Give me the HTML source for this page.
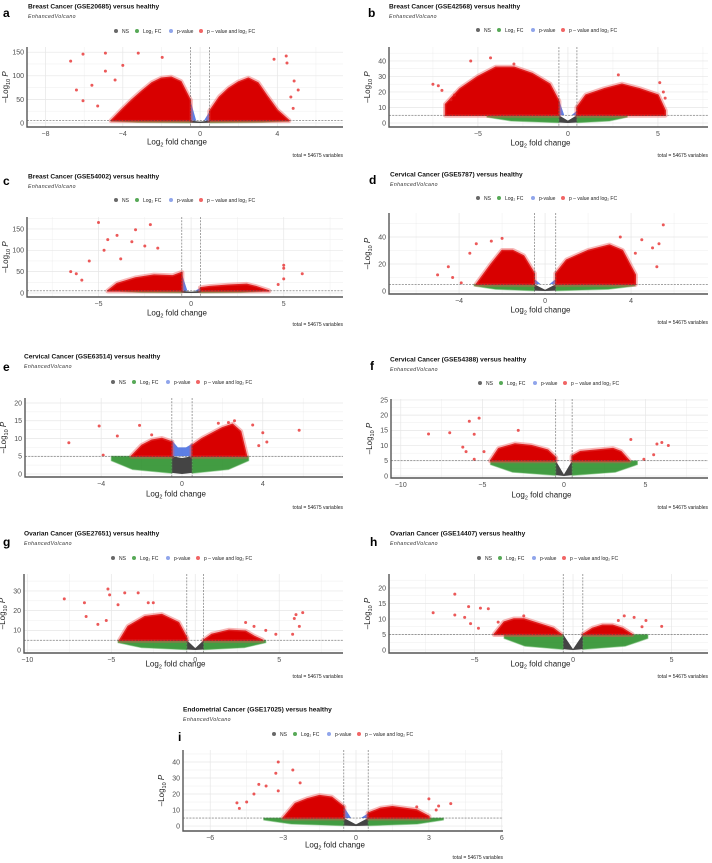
<!DOCTYPE html>
<html><head><meta charset="utf-8"><style>
body{margin:0;background:#fff}
svg{display:block;font-family:"Liberation Sans",sans-serif}
</style></head><body>
<svg id="fig" width="712" height="863" viewBox="0 0 712 863" xmlns="http://www.w3.org/2000/svg"></svg>
<script>
// ===== data arrays =====
const titles = ["Breast Cancer (GSE20685) versus healthy","Breast Cancer (GSE42568) versus healthy","Breast Cancer (GSE54002) versus healthy","Cervical Cancer (GSE5787) versus healthy","Cervical Cancer (GSE63514) versus healthy","Cervical Cancer (GSE54388) versus healthy","Ovarian Cancer (GSE27651) versus healthy","Ovarian Cancer (GSE14407) versus healthy","Endometrial Cancer (GSE17025) versus healthy"];
const letters = ["a","b","c","d","e","f","g","h","i"];
const xTicks = [[-8,-4,0,4],[-5,0,5],[-5,0,5],[-4,0,4],[-4,0,4],[-10,-5,0,5],[-10,-5,0,5],[-5,0,5],[-6,-3,0,3,6]];
const yTicks = [[0,50,100,150],[0,10,20,30,40],[0,50,100,150],[0,20,40],[0,5,10,15,20],[0,5,10,15,20,25],[0,10,20,30],[0,5,10,15,20],[0,10,20,30,40]];
const xDomains = [[-8.96,7.4],[-9.94,7.78],[-8.86,8.2],[-7.26,7.58],[-7.77,7.97],[-10.6,8.83],[-10.2,8.8],[-9.34,6.85],[-7.12,6.05]];
const yDomains = [[-8.5,161],[-2.6,49],[-9.4,178],[-2.2,57.8],[-0.85,21.4],[-0.66,25.3],[-1.5,38.6],[-0.97,24.5],[-3.1,47.5]];
// dense red region envelopes
const redLeftX = [[-4.6,-4,-3.5,-3,-2.5,-2,-1.5,-1,-0.5],[-6.8,-6,-5,-4,-3,-2,-1,-0.5],[-4.5,-4,-3,-2,-1,-0.5],[-3.2,-2.5,-2,-1.5,-1,-0.5],[-2.5,-2,-1.5,-1,-0.5],[-4.5,-4,-3,-2,-1,-0.5],[-4.5,-4,-3,-2,-1,-0.5],[-4,-3.5,-3,-2.5,-2,-1.5,-1,-0.6],[-3,-2.5,-2,-1.5,-1,-0.5]];
const redLeftY = [[5,30,50,68,85,95,97,88,48],[12,22,30,36,36,32,25,14],[5,22,35,42,40,48],[5,20,30,30,26,13],[5,8,9.5,10,9],[5,9,10.5,10,8.5,6],[5,12,17,18,14,6],[5,9,10,10,9,8,7,5],[5,14,17,19,18,12]];
const redRightX = [[0.5,1,1.5,2,2.5,3,3.5,4,4.6],[0.5,1,2,3,4,5,5.4],[0.5,1,2,3,3.5,4.2],[0.5,1,2,3,3.6,4.2],[0.5,1,1.5,2,2.5,2.9,3.2],[0.5,1,2,3,3.5,4],[0.5,1,2,3,3.5,4],[0.5,1,1.5,2,2.5,3],[0.5,1,1.5,2,2.5,3]];
const redRightY = [[25,55,74,87,95,85,55,27,5],[10,18,22,25,22,18,8],[12,15,18,20,15,5],[13,23,30,34,30,12],[8,10,11.5,13,14,12,5],[6.5,8,8.5,9,8,5],[5,8,10,9.5,7,5],[5,7,8,8,7,5],[8,11,12,11,10,6]];
// outlying significant genes
const outX = [[-6.7,-6.06,-4.9,-6.4,-6.06,-5.6,-4.9,-4,-3.2,-1.96,-5.3,-4.4,4.46,4.5,3.83,4.87,5.08,4.82,4.7],[-7.5,-7,-6.5,-5.4,-4.3,-3,2.8,5.1,5.4,5.3,-6.3,-7.2],[-5,-2.2,-3,-4,-4.5,-3.2,-2.5,-1.8,-4.7,-5.5,-6.5,-3.8,5,5,6,5,4.7,-6.2,-5.9],[5.5,4.5,5.3,5,5.2,-5,-4.3,-3.9,-3.5,-3.2,-2,-2.5,3.5,4.2,-4.5],[-5.6,-4.1,-3.9,-3.2,-2.1,5.8,4,4.2,3.5,2.6,2.3,1.8,3.8,-1.5],[-8.3,-7,-5.8,-5.2,-5.5,-6,-5.5,-2.8,4.1,5.7,6,6.4,5.5,4.9,-4.9,-6.2],[-7.8,-6.6,-6.5,-5.2,-5.1,-4.2,-3.4,-5.3,-5.8,-4.6,6.4,6,5.9,6.2,5.8,4.8,4.2,3,3.5,-2.5,-2.8],[-7.1,-6,-6,-5.3,-4.7,-4.3,-5.5,-5.2,-4.8,-3.8,-2.5,2.6,3.1,3.7,4.5,3.5,2.3],[-3.2,-2.6,-3.3,-4,-3.7,-4.2,-4.5,-4.8,-4.9,-3.2,-2.3,3,3.4,3.9,3.3,2.5]];
const outY = [[131,146,148,70,47,80,110,122,148,139,36,91,142,127,135,89,70,31,55],[25,21,15,40,42,38,31,26,16,20,18,24],[165,160,148,135,125,120,110,105,100,75,50,80,65,58,45,33,20,45,30],[49,38,35,32,18,12,10,6,28,35,39,37,40,28,18],[8.8,13.5,5.3,10.7,13.7,12.3,11.6,9,13.8,15,14.5,14.3,8,11],[13.8,14.2,18,19,13.7,8,5.5,15,12,10.5,11,10,7,5.5,8,9.5],[26,24,17,31,28,29,29,15,13,23,19,18,16,12,8,8,10,14,12,24,24],[12,18,11.3,14,13.5,13.3,10.5,8.5,7,9,11,11,10.5,9.5,7.6,7.5,9.5],[40,35,33,26,25,20,15,11,14.5,22,27,17,12.5,14,10,12]];
// green (log2FC only) extent, grey / blue shapes
const greenExtL = [-4.6,-4.5,-3.8,-3.3,-3.5,-4.5,-4.6,-3.5,-3.8];
const greenExtR = [4.6,3.3,3.8,4.2,3.3,4.5,4.2,3.8,3.6];
const blueLeft = [48,15,45,9,9.5,5.3,5,5,12];
const blueMid = [5,5,5,5,7.5,5,5,5,5];
const blueRight = [25,8,12,9,8.5,5,5,5,8];
const greyMid = [3,1.5,3,1,4.5,0.5,1,0.3,1];

// ===== layout (pixels) =====
const L = [
 {L:27,R:343,T:47,B:127,tx:28,ty:6,lx:3,ly:13,legY:31,legC:186,xl:142,tot:155},
 {L:389,R:708,T:47,B:127,tx:389,ty:6,lx:368,ly:13,legY:30,legC:548,xl:143,tot:155},
 {L:27,R:343,T:217,B:297,tx:28,ty:176,lx:3,ly:181,legY:200,legC:186,xl:313,tot:324},
 {L:389,R:708,T:213,B:294,tx:390,ty:174,lx:369,ly:180,legY:198,legC:548,xl:310,tot:322},
 {L:25,R:343,T:398,B:477,tx:24,ty:356,lx:3,ly:367,legY:382,legC:183,xl:494,tot:507},
 {L:391,R:708,T:399,B:478,tx:390,ty:359,lx:370,ly:366,legY:383,legC:550,xl:495,tot:507},
 {L:24,R:343,T:574,B:653,tx:24,ty:533,lx:3,ly:542,legY:558,legC:183,xl:664,tot:676},
 {L:389,R:708,T:574,B:653,tx:390,ty:533,lx:370,ly:542,legY:558,legC:549,xl:664,tot:676},
 {L:183,R:503,T:750,B:831,tx:183,ty:709,lx:178,ly:737,legY:734,legC:344,xl:845,tot:857}
];
const NS="http://www.w3.org/2000/svg";
const svg=document.getElementById('fig');
function mk(tag,attrs,parent,text){const e=document.createElementNS(NS,tag);for(const k in attrs)e.setAttribute(k,attrs[k]);if(text!==undefined)e.textContent=text;(parent||svg).appendChild(e);return e;}
const THR=5;
for(let p=0;p<9;p++){
  const c=L[p];
  const g=mk('g',{});
  
  
  const [x0,x1]=xDomains[p],[y0,y1]=yDomains[p];
  const X=v=>c.L+(v-x0)/(x1-x0)*(c.R-c.L);
  const Y=v=>c.B-(v-y0)/(y1-y0)*(c.B-c.T);
  const lt=mk('text',{x:c.lx,y:c.ly+4,'font-size':12,'font-weight':'bold',fill:'#000'},g,letters[p]);
  
  
  const tt=mk('text',{x:c.tx,y:c.ty+2.5,'font-size':6.6,'font-weight':'bold',fill:'#111'},g,titles[p]);
  
  
  const st=mk('text',{x:c.tx,y:c.ty+12,'font-size':5.2,'font-style':'italic',fill:'#333','letter-spacing':'0.4'},g,'EnhancedVolcano');
  
  
  const lg=mk('g',{},g);
  
  
  const legCols=['#4d4d4d','#3a9a3a','#7d95e8','#ee4a4a'];
  const legTxt=['NS','Log\u2082 FC','p-value','p \u2013 value and log\u2082 FC'];
  const legOff=[0,21,55,85];
  const s0=c.legC-70;
  for(let k=0;k<4;k++){
    const ld=mk('circle',{cx:s0+legOff[k],cy:c.legY,r:2,fill:legCols[k],opacity:0.85},lg);
    
    
    const lt2=mk('text',{x:s0+legOff[k]+6,y:c.legY+1.8,'font-size':5,fill:'#222'},lg,legTxt[k]);
    
    
  }
  const xt=xTicks[p],yt=yTicks[p];
  const dx=xt[1]-xt[0],dy=yt[1]-yt[0];
  for(let v=xt[0]-dx;v<=x1+dx;v+=dx/2){if(v<x0||v>x1)continue;const major=xt.includes(v);
    const gl=mk('line',{x1:X(v),x2:X(v),y1:c.T,y2:c.B,stroke:'#e6e6e6','stroke-width':major?0.7:0.35},g);
    
    }
  for(let v=yt[0]-dy;v<=y1+dy;v+=dy/2){if(v<y0||v>y1)continue;const major=yt.includes(v);
    const gl=mk('line',{x1:c.L,x2:c.R,y1:Y(v),y2:Y(v),stroke:'#e6e6e6','stroke-width':major?0.7:0.35},g);
    
    }
  const pts=a=>a.map(q=>X(q[0]).toFixed(1)+','+Y(q[1]).toFixed(1)).join(' ');
  const grey=mk('polygon',{points:pts([[-0.5,THR],[-0.5,0.3],[0,0],[0.5,0.3],[0.5,THR],[0,greyMid[p]]]),fill:'#444'},g);
  
  
  for(const side of [-1,1]){
    const ext=side<0?greenExtL[p]:greenExtR[p];
    const gp=mk('polygon',{points:pts([[side*0.5,THR],[ext,THR],[ext,THR*0.75],[ext*0.7,THR*0.25],[side*0.5,0.2]]),fill:'#228b22',opacity:0.85,stroke:'#48a848','stroke-width':1.2,'stroke-linejoin':'round','stroke-opacity':0.5},g);
    
    
  }
  const bp=mk('polygon',{points:pts([[-0.5,THR],[-0.5,blueLeft[p]],[-0.2,blueMid[p]],[0,blueMid[p]],[0.2,blueMid[p]],[0.5,blueRight[p]],[0.5,THR]]),fill:'#4169e1',opacity:0.85},g);
  
  
  const sides=[[redLeftX[p],redLeftY[p],'sig-points-down'],[redRightX[p],redRightY[p],'sig-points-up']];
  for(const [sx,sy,nm] of sides){
    const env=sx.map((v,i)=>[v,sy[i]]);
    const poly=pts([[sx[0],THR]].concat(env).concat([[sx[sx.length-1],THR]]));
    const halo=mk('polygon',{points:poly,fill:'none',stroke:'#ec5050','stroke-width':5,'stroke-linejoin':'round','stroke-opacity':0.4},g);
    
    
    const rp=mk('polygon',{points:poly,fill:'#d80000',stroke:'#e02020','stroke-width':1.5,'stroke-linejoin':'round'},g);
    
    
  }
  for(let k=0;k<outX[p].length;k++){
    const o=mk('circle',{cx:X(outX[p][k]),cy:Y(outY[p][k]),r:1.5,fill:'#e52222',opacity:0.75},g);
    
    
  }
  for(const v of [-0.5,0.5]){
    const dl=mk('line',{x1:X(v),x2:X(v),y1:c.T,y2:c.B,stroke:'#444','stroke-width':0.5,'stroke-dasharray':'2,1.2'},g);
    
    
  }
  const hl=mk('line',{x1:c.L,x2:c.R,y1:Y(THR),y2:Y(THR),stroke:'#444','stroke-width':0.5,'stroke-dasharray':'2,1.2'},g);
  
  
  const ax=mk('path',{d:`M${c.L},${c.T} V${c.B} H${c.R}`,fill:'none',stroke:'#555','stroke-width':1.4},g);
  
  
  for(const v of xt){if(v<x0||v>x1)continue;
    const tl=mk('text',{x:X(v),y:c.B+9,'font-size':7,fill:'#4d4d4d','text-anchor':'middle'},g,v<0?'\u2212'+(-v):String(v));
    
    }
  for(const v of yt){
    const tl=mk('text',{x:c.L-3,y:Y(v)+2.4,'font-size':7,fill:'#4d4d4d','text-anchor':'end'},g,String(v));
    
    }
  const xl=mk('text',{x:(c.L+c.R)/2-8,y:c.xl+2.5,'font-size':8,fill:'#222','text-anchor':'middle'},g);
  
  
  xl.innerHTML='Log<tspan font-size="5.5" dy="2">2</tspan><tspan dy="-2"> fold change</tspan>';
  const yx=c.L-19,yy=(c.T+c.B)/2;
  const yl=mk('text',{x:yx,y:yy,'font-size':8,fill:'#222','text-anchor':'middle',transform:`rotate(-90 ${yx} ${yy})`},g);
  
  
  yl.innerHTML='\u2013Log<tspan font-size="5.5" dy="2">10</tspan><tspan dy="-2" font-style="italic"> P</tspan>';
  const tot=mk('text',{x:c.R,y:c.tot+2,'font-size':5,fill:'#222','text-anchor':'end'},g,'total = 54675 variables');
  
  
}
</script>
</body></html>
